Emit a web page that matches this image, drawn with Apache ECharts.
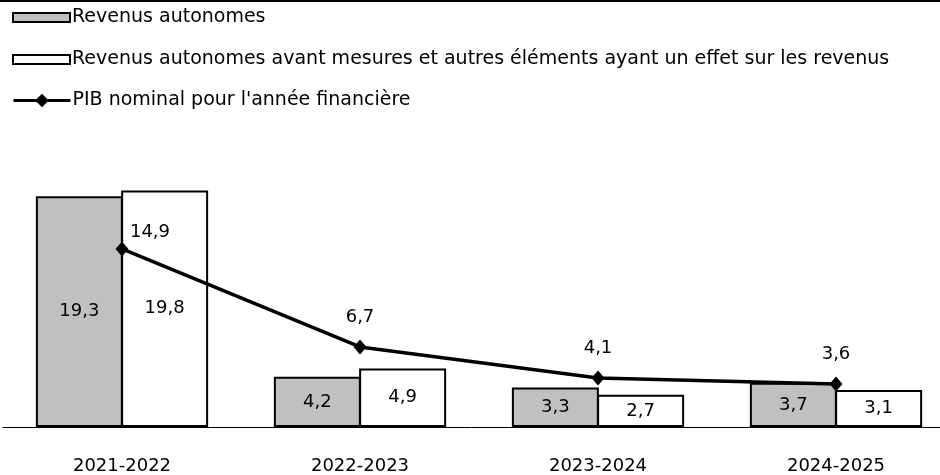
<!DOCTYPE html>
<html>
<head>
<meta charset="utf-8">
<script src="https://cdn.jsdelivr.net/npm/echarts@6/dist/echarts.min.js"></script>
<style>
  html, body { margin: 0; padding: 0; background: #fff; }
  #chart { width: 940px; height: 475px; }
</style>
</head>
<body>
<div id="chart"></div>
<script>
// années financières
const categories = ['2021-2022', '2022-2023', '2023-2024', '2024-2025']
// Revenus autonomes
const revenus = [19.3, 4.2, 3.3, 3.7]
// Revenus autonomes avant mesures
const revenusAvant = [19.8, 4.9, 2.7, 3.1]
// PIB nominal
const pib = [14.9, 6.7, 4.1, 3.6]

const names = [
  'Revenus autonomes',
  'Revenus autonomes avant mesures et autres éléments ayant un effet sur les revenus',
  "PIB nominal pour l'année financière"
]

const font = 'DejaVu Sans'
const fmt = p => String(p.value).replace('.', ',')

const chart = echarts.init(document.getElementById('chart'))

// une légende par ligne pour garder l'espacement
const legendTops = [3, 45, 86]
const legends = names.map((n, i) => ({
  data: [n],
  left: 7,
  top: legendTops[i],
  itemWidth: 57,
  itemHeight: i < 2 ? 9 : 17,
  itemGap: 0,
  icon: i < 2 ? 'rect' : undefined,
  lineStyle: { width: 3 },
  selectedMode: false,
  textStyle: { color: '#000', fontSize: 19, fontFamily: font, padding: [0, 0, 0, -3] }
}))

chart.setOption({
  animation: false,
  textStyle: { fontFamily: font },
  legend: legends,
  graphic: [{
    type: 'line',
    shape: { x1: 0, y1: 1, x2: 940, y2: 1 },
    style: { stroke: '#000', lineWidth: 2 }
  }],
  grid: {
    left: 3,
    right: -15,
    top: 188,
    bottom: 48,
    outerBoundsMode: 'none'
  },
  xAxis: {
    type: 'category',
    data: categories,
    axisTick: { show: false },
    axisLine: { lineStyle: { color: '#000', width: 1 } },
    axisLabel: { color: '#000', fontSize: 18, fontFamily: font, margin: 30 }
  },
  yAxis: {
    type: 'value',
    min: 0,
    max: 20,
    show: false,
    splitLine: { show: false }
  },
  series: [
    {
      name: names[0],
      type: 'bar',
      data: revenus,
      barWidth: 87,
      barGap: '-2%',
      itemStyle: { color: '#c0c0c0', borderColor: '#000', borderWidth: 2 },
      label: { show: true, position: 'inside', color: '#000', fontSize: 18, fontFamily: font, formatter: fmt }
    },
    {
      name: names[1],
      type: 'bar',
      data: revenusAvant,
      barWidth: 87,
      barGap: '-2%',
      itemStyle: { color: '#fff', borderColor: '#000', borderWidth: 2 },
      label: { show: true, position: 'inside', color: '#000', fontSize: 18, fontFamily: font, formatter: fmt }
    },
    {
      name: names[2],
      type: 'line',
      data: pib.map((v, i) => i === 0
        ? { value: v, label: { offset: [28, 13] } }
        : v),
      z: 5,
      symbol: 'diamond',
      symbolSize: [13, 15],
      lineStyle: { color: '#000', width: 3.5 },
      itemStyle: { color: '#000' },
      label: { show: true, position: 'top', distance: 13, color: '#000', fontSize: 18, fontFamily: font, formatter: fmt }
    }
  ]
})
</script>
</body>
</html>
